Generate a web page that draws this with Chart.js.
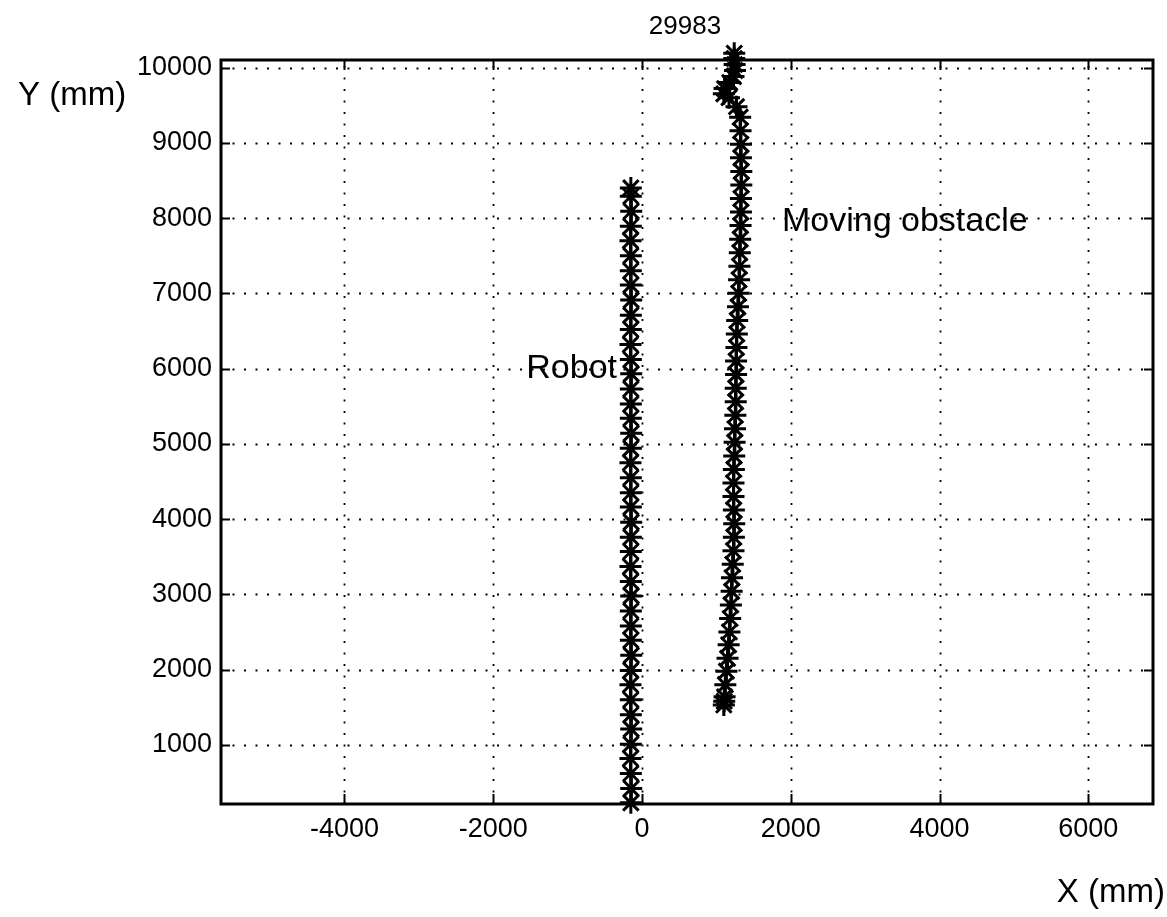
<!DOCTYPE html>
<html>
<head>
<meta charset="utf-8">
<script src="https://cdn.jsdelivr.net/npm/chart.js@4.4.1/dist/chart.umd.min.js"></script>
<style>
  html, body { margin: 0; padding: 0; background: #ffffff; }
  #wrap { width: 1167px; height: 917px; position: relative; }
</style>
</head>
<body>
<div id="wrap"><canvas id="c" width="1167" height="917"></canvas></div>
<script>
// ---- data ----
const xTickValues = [-4000, -2000, 0, 2000, 4000, 6000];
const yTickValues = [1000, 2000, 3000, 4000, 5000, 6000, 7000, 8000, 9000, 10000];
const xRange = [-5660, 6870];
const yRange = [215, 10100];

const robotX = [
  -150, -145, -150, -155, -150,
  -145, -150, -150, -155, -150,
  -145, -150, -150, -150, -145,
  -150, -155, -150, -150, -145,
  -150, -150, -150, -155, -150,
  -145, -150, -150, -150, -145,
  -150, -155, -150, -150, -145,
  -150, -150, -150, -155, -150,
  -145, -150, -150
];
const robotY = [
  230, 420, 620, 820, 1010,
  1210, 1400, 1600, 1800, 1990,
  2190, 2390, 2580, 2780, 2980,
  3170, 3370, 3570, 3760, 3960,
  4160, 4350, 4550, 4750, 4940,
  5140, 5340, 5530, 5730, 5930,
  6120, 6320, 6520, 6710, 6910,
  7110, 7300, 7500, 7700, 7890,
  8090, 8290, 8400
];

const obstacleX = [
  1100, 1105, 1110, 1120, 1135,
  1150, 1165, 1175, 1185, 1195,
  1205, 1210, 1220, 1230, 1235,
  1240, 1235, 1230, 1230, 1235,
  1240, 1245, 1250, 1255, 1260,
  1260, 1265, 1265, 1270, 1275,
  1280, 1290, 1300, 1305, 1310,
  1315, 1320, 1325, 1330, 1330,
  1335, 1335, 1330, 1330, 1325,
  1320, 1270, 1170, 1100, 1110,
  1180, 1230, 1250, 1245, 1240,
  1240
];
const obstacleY = [
  1530, 1580, 1640, 1800, 1980,
  2150, 2330, 2500, 2680, 2860,
  3040, 3220, 3400, 3580, 3760,
  3940, 4120, 4300, 4480, 4660,
  4840, 5020, 5200, 5380, 5560,
  5740, 5920, 6100, 6280, 6460,
  6640, 6820, 7000, 7180, 7360,
  7540, 7720, 7900, 8080, 8260,
  8440, 8620, 8800, 8980, 9160,
  9340, 9480, 9600, 9650, 9720,
  9800, 9880, 9960, 10040, 10120,
  10190
];

const annotations = [
  { text: 'Robot', x: 617, y: 369, align: 'right', size: 34 },
  { text: 'Moving obstacle', x: 782, y: 222, align: 'left', size: 34 },
  { text: '29983', x: 685, y: 27, align: 'center', size: 26 },
  { text: 'Y (mm)', x: 18, y: 96, align: 'left', size: 33 },
  { text: 'X (mm)', x: 1165, y: 893, align: 'right', size: 33 }
];

// ---- chart ----
const FONT = "'Liberation Sans', Arial, sans-serif";

const framePlugin = {
  id: 'matlabFrame',
  beforeDatasetsDraw(chart) {
    const { ctx, chartArea: a, scales: { x, y } } = chart;
    ctx.save();
    ctx.strokeStyle = '#000';
    ctx.lineWidth = 1.8;
    ctx.setLineDash([2, 9.5]);
    xTickValues.forEach(v => {
      const px = Math.round(x.getPixelForValue(v)) + 0.5;
      ctx.beginPath(); ctx.moveTo(px, a.bottom); ctx.lineTo(px, a.top); ctx.stroke();
    });
    yTickValues.forEach(v => {
      const py = Math.round(y.getPixelForValue(v)) + 0.5;
      ctx.beginPath(); ctx.moveTo(a.left, py); ctx.lineTo(a.right, py); ctx.stroke();
    });
    ctx.restore();
  },
  afterDatasetsDraw(chart) {
    const { ctx, chartArea: a, scales: { x, y } } = chart;
    ctx.save();
    ctx.setLineDash([]);
    ctx.strokeStyle = '#000';
    // inward ticks
    ctx.lineWidth = 2;
    xTickValues.forEach(v => {
      const px = Math.round(x.getPixelForValue(v)) + 0.5;
      ctx.beginPath(); ctx.moveTo(px, a.bottom); ctx.lineTo(px, a.bottom - 10); ctx.stroke();
      ctx.beginPath(); ctx.moveTo(px, a.top); ctx.lineTo(px, a.top + 10); ctx.stroke();
    });
    yTickValues.forEach(v => {
      const py = Math.round(y.getPixelForValue(v)) + 0.5;
      ctx.beginPath(); ctx.moveTo(a.left, py); ctx.lineTo(a.left + 9, py); ctx.stroke();
      ctx.beginPath(); ctx.moveTo(a.right, py); ctx.lineTo(a.right - 9, py); ctx.stroke();
    });
    // frame
    ctx.lineWidth = 3;
    ctx.strokeRect(a.left, a.top, a.right - a.left, a.bottom - a.top);
    // annotations
    ctx.fillStyle = '#000';
    ctx.textBaseline = 'middle';
    annotations.forEach(t => {
      ctx.font = t.size + 'px ' + FONT;
      ctx.textAlign = t.align;
      ctx.fillText(t.text, t.x, t.y);
    });
    ctx.restore();
  }
};

const markerStyle = {
  showLine: true,
  borderColor: '#000',
  borderWidth: 3,
  pointStyle: 'star',
  pointRadius: 11,
  pointBorderWidth: 3,
  pointBorderColor: '#000',
  pointBackgroundColor: '#000',
  clip: false
};

new Chart(document.getElementById('c'), {
  type: 'scatter',
  data: {
    datasets: [
      Object.assign({ label: 'Robot', data: robotX.map((v, i) => ({ x: v, y: robotY[i] })) }, markerStyle),
      Object.assign({ label: 'Moving obstacle', data: obstacleX.map((v, i) => ({ x: v, y: obstacleY[i] })) }, markerStyle)
    ]
  },
  options: {
    responsive: false,
    animation: false,
    layout: { padding: { top: 60, right: 8, left: 0, bottom: 0 } },
    plugins: { legend: { display: false }, tooltip: { enabled: false } },
    scales: {
      x: {
        type: 'linear',
        min: xRange[0], max: xRange[1],
        grid: { display: false, drawTicks: false },
        border: { display: false },
        afterBuildTicks: s => { s.ticks = xTickValues.map(v => ({ value: v })); },
        afterFit: s => { s.height = 917 - 804; s.paddingLeft = 0; s.paddingRight = 0; },
        ticks: { color: '#000', font: { family: FONT, size: 27 }, padding: 9, maxRotation: 0, autoSkip: false,
                 callback: v => String(v) }
      },
      y: {
        type: 'linear',
        min: yRange[0], max: yRange[1],
        grid: { display: false, drawTicks: false },
        border: { display: false },
        afterBuildTicks: s => { s.ticks = yTickValues.map(v => ({ value: v })); },
        afterFit: s => { s.width = 221; s.paddingTop = 0; s.paddingBottom = 0; },
        ticks: { color: '#000', font: { family: FONT, size: 27 }, padding: 9, autoSkip: false,
                 callback: v => String(v) }
      }
    }
  },
  plugins: [framePlugin]
});
</script>
</body>
</html>
